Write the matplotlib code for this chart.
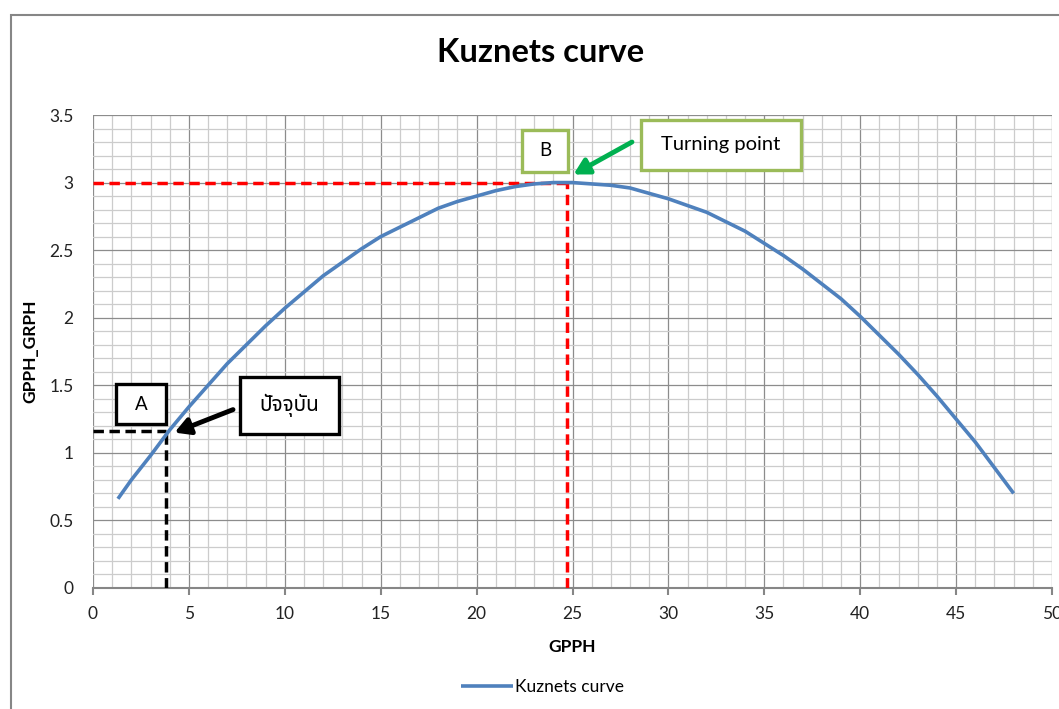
import matplotlib
matplotlib.use("Agg")
import matplotlib.pyplot as plt
from matplotlib.patches import Rectangle
from matplotlib.ticker import MultipleLocator

# curve points (GPPH vs GPPH_GRPH)
gpph = [1.3, 2, 3, 4, 5, 6, 7, 8, 9, 10, 11, 12, 13, 14, 15, 16, 17, 18, 19, 20,
        21, 22, 23, 24, 25, 26, 27, 28, 29, 30, 31, 32, 33, 34, 35, 36, 37, 38,
        39, 40, 41, 42, 43, 44, 45, 46, 47, 48]
gpph_grph = [0.66, 0.80, 0.98, 1.17, 1.34, 1.50, 1.66, 1.80, 1.94, 2.07, 2.19, 2.31,
             2.41, 2.51, 2.60, 2.67, 2.74, 2.81, 2.86, 2.90, 2.94, 2.97, 2.99, 3.00,
             3.00, 2.99, 2.98, 2.96, 2.92, 2.88, 2.83, 2.78, 2.71, 2.64, 2.55, 2.46,
             2.36, 2.25, 2.14, 2.01, 1.87, 1.73, 1.58, 1.42, 1.25, 1.08, 0.89, 0.70]

# marked points
point_a = (3.8, 1.16)
point_b = (24.7, 3.0)

x_ticks = [0, 5, 10, 15, 20, 25, 30, 35, 40, 45, 50]
y_ticks = [0, 0.5, 1, 1.5, 2, 2.5, 3, 3.5]

plt.rcParams['font.family'] = ['Lato', 'Noto Sans', 'DejaVu Sans']

fig = plt.figure(figsize=(10.59, 7.09), dpi=100)
ax = fig.add_axes([93 / 1059, 1 - 588 / 709, (1052 - 93) / 1059, (588 - 115) / 709])

# chart frame
fig.patches.append(Rectangle((11 / 1059, -0.05), 1.1, 1 - 15 / 709 + 0.05,
                             transform=fig.transFigure, fill=False,
                             edgecolor='#868686', linewidth=1.5))

ax.set_xlim(0, 50)
ax.set_ylim(0, 3.5)
ax.set_xticks(x_ticks)
ax.set_yticks(y_ticks)
ax.set_xticklabels([str(v) for v in x_ticks])
ax.set_yticklabels([('%g' % v) for v in y_ticks])
ax.xaxis.set_minor_locator(MultipleLocator(1))
ax.yaxis.set_minor_locator(MultipleLocator(0.1))
ax.grid(which='minor', color='#cccccc', linewidth=0.9)
ax.grid(which='major', color='#8c8c8c', linewidth=0.9)
ax.set_axisbelow(True)

for side in ['top', 'right', 'left']:
    ax.spines[side].set_visible(False)
ax.spines['bottom'].set_color('#868686')
ax.spines['bottom'].set_linewidth(1.5)
ax.tick_params(axis='x', which='major', length=5, color='#868686', width=1.5,
               labelsize=12.5, pad=8, labelcolor='#222222')
ax.tick_params(axis='y', which='major', length=0, labelsize=12.5, pad=14,
               labelcolor='#222222')
ax.tick_params(which='minor', length=0)

# dashed guide lines
dash = (0, (3, 1.6))
ax.plot([0, point_b[0]], [point_b[1], point_b[1]], color='#ff0000', ls=dash, lw=2.5, zorder=3)
ax.plot([point_b[0], point_b[0]], [0, point_b[1]], color='#ff0000', ls=dash, lw=2.5, zorder=3)
ax.plot([0, point_a[0]], [point_a[1], point_a[1]], color='black', ls=dash, lw=2.5, zorder=3)
ax.plot([point_a[0], point_a[0]], [0, point_a[1]], color='black', ls=dash, lw=2.5, zorder=3)

line, = ax.plot(gpph, gpph_grph, color='#4f81bd', lw=2.6, zorder=4, label='Kuznets curve',
                solid_joinstyle='round', solid_capstyle='butt')

fig.text(541 / 1059, 1 - 53 / 709, 'Kuznets curve', fontsize=23.5, fontweight='bold',
         ha='center', va='center')
ax.set_xlabel('GPPH', fontsize=12.5, fontweight='bold', labelpad=12)
ax.set_ylabel('GPPH_GRPH', fontsize=12.5, fontweight='bold', labelpad=8)


def label_box(cx, cy, w, h, text, edge, size, **kw):
    ax.add_patch(Rectangle((cx - w / 2, cy - h / 2), w, h, fc='white', ec=edge,
                           lw=2.4, zorder=6))
    ax.text(cx, cy, text, fontsize=size, ha='center', va='center', zorder=7, **kw)


arrow = '-|>,head_length=0.9,head_width=0.5'
ax.annotate('', xy=(4.25, 1.15), xytext=(7.3, 1.32),
            arrowprops=dict(arrowstyle=arrow, color='black', lw=3.5, shrinkA=0, shrinkB=0))
ax.annotate('', xy=(25.05, 3.06), xytext=(28.1, 3.30),
            arrowprops=dict(arrowstyle=arrow, color='#00b050', lw=3.5, shrinkA=0, shrinkB=0))

label_box(2.5, 1.36, 2.6, 0.30, 'A', 'black', 13.5)
label_box(10.24, 1.35, 5.15, 0.42, 'ปัจจุบัน', 'black', 15,
          family=['Noto Sans Thai', 'Noto Sans', 'DejaVu Sans'])
label_box(23.57, 3.235, 2.4, 0.31, 'B', '#9bbb59', 13.5)
label_box(32.74, 3.28, 8.34, 0.37, 'Turning point', '#9bbb59', 14.5)

fig.legend(handles=[line], loc='center', bbox_to_anchor=(0.512, 1 - 687 / 709),
           frameon=False, fontsize=12.5, handlelength=3, handletextpad=0.1)

fig.savefig('out.png', dpi=100)
